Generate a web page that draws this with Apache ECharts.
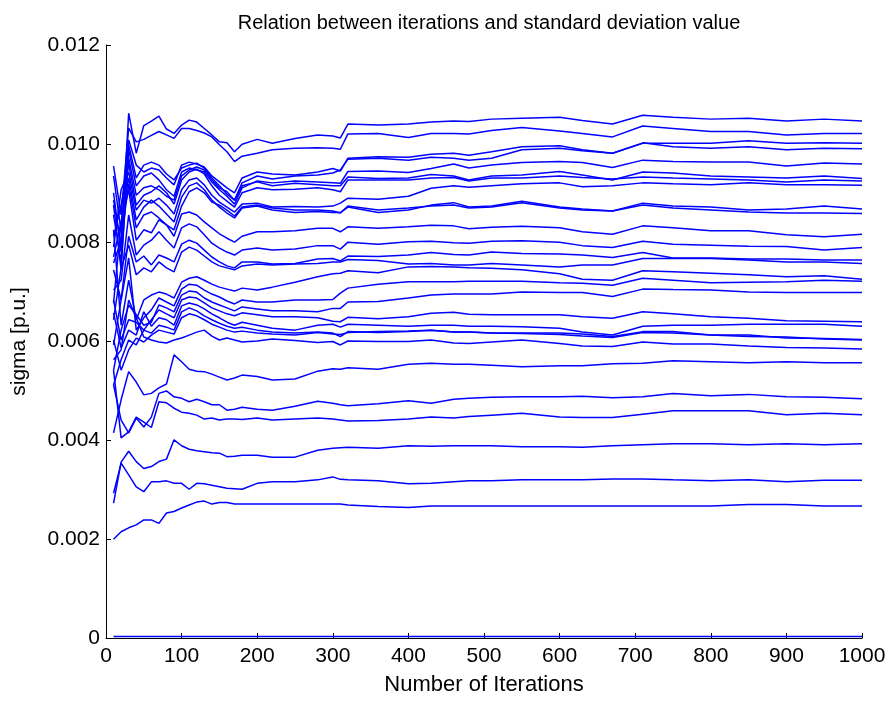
<!DOCTYPE html>
<html><head><meta charset="utf-8">
<script src="https://cdn.jsdelivr.net/npm/echarts@6/dist/echarts.min.js"></script>
<style>html,body{margin:0;padding:0;background:#fff}#c{width:890px;height:705px}</style>
</head><body><div id="c"></div>
<script>
const iterations = [10,20,30,40,50,60,70,80,90,100,110,120,130,140,150,160,170,180,200,220,250,280,300,310,320,360,400,430,460,480,510,550,600,630,670,710,750,800,850,900,950,1000];

const sigma01 = [0.00886,0.00795,0.01062,0.00981,0.01037,0.01046,0.01056,0.01030,0.01021,0.01038,0.01048,0.01044,0.01031,0.01018,0.01004,0.01002,0.00984,0.00999,0.01009,0.01001,0.01011,0.01018,0.01016,0.01012,0.01040,0.01038,0.01040,0.01044,0.01046,0.01045,0.01050,0.01052,0.01054,0.01047,0.01040,0.01058,0.01054,0.01050,0.01052,0.01046,0.01050,0.01046];
const sigma02 = [0.00955,0.00856,0.01032,0.01004,0.01009,0.01017,0.01025,0.01018,0.01011,0.01031,0.01031,0.01027,0.01022,0.01014,0.00998,0.00984,0.00964,0.00975,0.00981,0.00988,0.00991,0.00992,0.00991,0.00989,0.01020,0.01021,0.01013,0.01021,0.01021,0.01020,0.01027,0.01033,0.01026,0.01021,0.01014,0.01036,0.01031,0.01025,0.01025,0.01018,0.01021,0.01021];
const sigma03 = [0.00935,0.00822,0.01008,0.00957,0.00943,0.00951,0.00947,0.00931,0.00917,0.00957,0.00963,0.00959,0.00953,0.00935,0.00923,0.00911,0.00901,0.00931,0.00943,0.00939,0.00937,0.00943,0.00950,0.00945,0.00971,0.00974,0.00973,0.00979,0.00981,0.00977,0.00984,0.00994,0.00996,0.00988,0.00981,0.01001,0.01001,0.01001,0.01006,0.01001,0.01002,0.01001];
const sigma04 = [0.00901,0.00781,0.00998,0.00931,0.00957,0.00963,0.00957,0.00939,0.00927,0.00951,0.00957,0.00961,0.00951,0.00931,0.00915,0.00898,0.00886,0.00921,0.00935,0.00929,0.00935,0.00937,0.00941,0.00947,0.00969,0.00971,0.00967,0.00973,0.00971,0.00967,0.00971,0.00988,0.00991,0.00986,0.00981,0.01002,0.00994,0.00991,0.00994,0.00988,0.00991,0.00990];
const sigma05 = [0.00876,0.00745,0.00988,0.00915,0.00935,0.00941,0.00927,0.00907,0.00894,0.00943,0.00951,0.00947,0.00943,0.00923,0.00907,0.00894,0.00878,0.00911,0.00925,0.00921,0.00925,0.00923,0.00921,0.00920,0.00944,0.00945,0.00942,0.00950,0.00959,0.00951,0.00957,0.00962,0.00964,0.00962,0.00952,0.00967,0.00964,0.00963,0.00963,0.00955,0.00961,0.00959];
const sigma06 = [0.00856,0.00761,0.00971,0.00896,0.00911,0.00915,0.00907,0.00894,0.00886,0.00935,0.00947,0.00953,0.00947,0.00927,0.00911,0.00903,0.00886,0.00915,0.00923,0.00915,0.00920,0.00917,0.00915,0.00915,0.00933,0.00930,0.00931,0.00938,0.00935,0.00927,0.00935,0.00937,0.00944,0.00937,0.00927,0.00943,0.00941,0.00935,0.00933,0.00931,0.00935,0.00930];
const sigma07 = [0.00813,0.00876,0.00961,0.00876,0.00896,0.00903,0.00915,0.00901,0.00878,0.00927,0.00943,0.00949,0.00939,0.00915,0.00896,0.00884,0.00872,0.00901,0.00911,0.00907,0.00908,0.00911,0.00907,0.00903,0.00927,0.00927,0.00927,0.00931,0.00932,0.00925,0.00931,0.00931,0.00935,0.00932,0.00929,0.00933,0.00931,0.00929,0.00927,0.00923,0.00927,0.00925];
const sigma08 = [0.00791,0.00907,0.00943,0.00866,0.00886,0.00880,0.00890,0.00876,0.00858,0.00907,0.00927,0.00931,0.00917,0.00896,0.00882,0.00872,0.00862,0.00878,0.00880,0.00872,0.00873,0.00872,0.00874,0.00880,0.00890,0.00888,0.00894,0.00910,0.00915,0.00912,0.00915,0.00919,0.00921,0.00913,0.00915,0.00921,0.00919,0.00917,0.00921,0.00917,0.00917,0.00916];
const sigma09 = [0.00771,0.00842,0.00931,0.00846,0.00872,0.00886,0.00874,0.00858,0.00842,0.00892,0.00915,0.00921,0.00907,0.00886,0.00872,0.00860,0.00850,0.00870,0.00874,0.00866,0.00861,0.00863,0.00861,0.00861,0.00872,0.00861,0.00866,0.00876,0.00881,0.00872,0.00874,0.00884,0.00872,0.00868,0.00864,0.00880,0.00874,0.00872,0.00866,0.00868,0.00874,0.00868];
const sigma10 = [0.00759,0.00805,0.00919,0.00830,0.00856,0.00862,0.00850,0.00836,0.00826,0.00874,0.00903,0.00911,0.00901,0.00882,0.00876,0.00866,0.00854,0.00872,0.00876,0.00870,0.00866,0.00866,0.00864,0.00860,0.00874,0.00866,0.00870,0.00874,0.00876,0.00870,0.00872,0.00881,0.00870,0.00866,0.00864,0.00876,0.00870,0.00866,0.00862,0.00860,0.00860,0.00859];
const sigma11 = [0.00678,0.00842,0.00907,0.00805,0.00826,0.00820,0.00846,0.00836,0.00813,0.00858,0.00862,0.00856,0.00842,0.00830,0.00818,0.00809,0.00801,0.00813,0.00822,0.00822,0.00824,0.00829,0.00829,0.00822,0.00832,0.00829,0.00832,0.00835,0.00834,0.00828,0.00831,0.00833,0.00830,0.00822,0.00817,0.00834,0.00830,0.00824,0.00824,0.00816,0.00812,0.00817];
const sigma12 = [0.00704,0.00724,0.00856,0.00775,0.00795,0.00805,0.00822,0.00805,0.00789,0.00830,0.00838,0.00832,0.00816,0.00799,0.00789,0.00781,0.00775,0.00785,0.00789,0.00785,0.00787,0.00794,0.00794,0.00787,0.00801,0.00797,0.00802,0.00803,0.00800,0.00799,0.00803,0.00804,0.00801,0.00794,0.00790,0.00803,0.00797,0.00795,0.00793,0.00792,0.00785,0.00790];
const sigma13 = [0.00745,0.00684,0.00813,0.00761,0.00773,0.00755,0.00775,0.00769,0.00761,0.00797,0.00805,0.00799,0.00785,0.00771,0.00761,0.00753,0.00749,0.00761,0.00761,0.00757,0.00758,0.00767,0.00768,0.00763,0.00773,0.00772,0.00775,0.00780,0.00776,0.00775,0.00781,0.00778,0.00777,0.00775,0.00770,0.00780,0.00769,0.00769,0.00767,0.00767,0.00765,0.00765];
const sigma14 = [0.00644,0.00749,0.00795,0.00735,0.00749,0.00741,0.00761,0.00749,0.00741,0.00781,0.00791,0.00785,0.00773,0.00761,0.00753,0.00749,0.00745,0.00753,0.00757,0.00755,0.00757,0.00758,0.00761,0.00761,0.00766,0.00764,0.00757,0.00758,0.00755,0.00755,0.00758,0.00755,0.00751,0.00755,0.00755,0.00768,0.00768,0.00768,0.00765,0.00761,0.00761,0.00758];
const sigma15 = [0.00826,0.00633,0.00724,0.00644,0.00684,0.00694,0.00700,0.00696,0.00688,0.00720,0.00728,0.00731,0.00724,0.00716,0.00710,0.00706,0.00702,0.00708,0.00704,0.00710,0.00720,0.00731,0.00737,0.00738,0.00743,0.00739,0.00751,0.00752,0.00751,0.00749,0.00748,0.00745,0.00737,0.00726,0.00724,0.00743,0.00741,0.00738,0.00735,0.00731,0.00733,0.00726];
const sigma16 = [0.00593,0.00684,0.00769,0.00623,0.00648,0.00664,0.00688,0.00680,0.00672,0.00706,0.00716,0.00714,0.00704,0.00696,0.00690,0.00682,0.00676,0.00684,0.00680,0.00680,0.00684,0.00684,0.00685,0.00698,0.00708,0.00716,0.00721,0.00721,0.00721,0.00722,0.00722,0.00722,0.00719,0.00718,0.00714,0.00728,0.00724,0.00719,0.00720,0.00721,0.00724,0.00722];
const sigma17 = [0.00542,0.00623,0.00674,0.00654,0.00633,0.00639,0.00674,0.00668,0.00660,0.00694,0.00702,0.00700,0.00688,0.00680,0.00674,0.00668,0.00662,0.00670,0.00666,0.00662,0.00662,0.00660,0.00667,0.00667,0.00680,0.00681,0.00688,0.00694,0.00696,0.00696,0.00696,0.00700,0.00699,0.00699,0.00691,0.00706,0.00705,0.00704,0.00700,0.00699,0.00699,0.00699];
const sigma18 = [0.00684,0.00603,0.00644,0.00639,0.00623,0.00644,0.00664,0.00656,0.00648,0.00684,0.00690,0.00688,0.00678,0.00668,0.00662,0.00656,0.00652,0.00658,0.00654,0.00650,0.00650,0.00648,0.00641,0.00640,0.00649,0.00646,0.00650,0.00657,0.00659,0.00655,0.00654,0.00654,0.00654,0.00650,0.00647,0.00660,0.00656,0.00650,0.00647,0.00642,0.00641,0.00640];
const sigma19 = [0.00658,0.00587,0.00623,0.00613,0.00660,0.00631,0.00648,0.00644,0.00633,0.00672,0.00678,0.00674,0.00666,0.00656,0.00648,0.00639,0.00633,0.00639,0.00633,0.00627,0.00623,0.00633,0.00635,0.00629,0.00635,0.00633,0.00631,0.00633,0.00633,0.00631,0.00631,0.00630,0.00627,0.00619,0.00613,0.00631,0.00633,0.00633,0.00635,0.00635,0.00635,0.00631];
const sigma20 = [0.00512,0.00563,0.00603,0.00593,0.00623,0.00617,0.00633,0.00629,0.00623,0.00660,0.00668,0.00662,0.00652,0.00644,0.00637,0.00631,0.00627,0.00629,0.00623,0.00619,0.00617,0.00619,0.00617,0.00610,0.00620,0.00618,0.00620,0.00623,0.00619,0.00619,0.00617,0.00617,0.00617,0.00615,0.00610,0.00620,0.00620,0.00613,0.00613,0.00607,0.00606,0.00604];
const sigma21 = [0.00603,0.00542,0.00583,0.00607,0.00599,0.00613,0.00623,0.00619,0.00615,0.00648,0.00656,0.00652,0.00644,0.00635,0.00629,0.00623,0.00619,0.00621,0.00617,0.00615,0.00613,0.00618,0.00615,0.00614,0.00618,0.00620,0.00621,0.00623,0.00619,0.00619,0.00617,0.00616,0.00614,0.00611,0.00608,0.00618,0.00617,0.00613,0.00610,0.00609,0.00605,0.00603];
const sigma22 = [0.00563,0.00583,0.00684,0.00648,0.00609,0.00603,0.00599,0.00597,0.00603,0.00607,0.00613,0.00619,0.00623,0.00611,0.00603,0.00607,0.00603,0.00599,0.00601,0.00605,0.00602,0.00598,0.00600,0.00593,0.00601,0.00600,0.00600,0.00603,0.00597,0.00596,0.00599,0.00603,0.00596,0.00591,0.00590,0.00599,0.00595,0.00595,0.00591,0.00588,0.00587,0.00585];
const sigma23 = [0.00415,0.00482,0.00539,0.00518,0.00492,0.00495,0.00506,0.00514,0.00573,0.00559,0.00544,0.00540,0.00539,0.00534,0.00528,0.00522,0.00526,0.00532,0.00529,0.00522,0.00524,0.00540,0.00545,0.00544,0.00547,0.00544,0.00554,0.00556,0.00554,0.00554,0.00552,0.00549,0.00551,0.00551,0.00555,0.00556,0.00561,0.00559,0.00557,0.00559,0.00557,0.00557];
const sigma24 = [0.00512,0.00441,0.00415,0.00445,0.00427,0.00447,0.00495,0.00500,0.00488,0.00485,0.00478,0.00483,0.00478,0.00472,0.00472,0.00461,0.00463,0.00467,0.00463,0.00461,0.00469,0.00479,0.00475,0.00472,0.00470,0.00474,0.00480,0.00475,0.00483,0.00485,0.00487,0.00488,0.00488,0.00489,0.00486,0.00488,0.00495,0.00490,0.00493,0.00488,0.00487,0.00484];
const sigma25 = [0.00542,0.00405,0.00417,0.00447,0.00437,0.00426,0.00478,0.00476,0.00465,0.00457,0.00455,0.00451,0.00443,0.00445,0.00441,0.00443,0.00443,0.00442,0.00445,0.00441,0.00443,0.00445,0.00443,0.00441,0.00439,0.00440,0.00443,0.00447,0.00445,0.00448,0.00451,0.00455,0.00447,0.00446,0.00446,0.00453,0.00460,0.00460,0.00460,0.00452,0.00455,0.00452];
const sigma26 = [0.00273,0.00356,0.00378,0.00357,0.00343,0.00347,0.00357,0.00362,0.00401,0.00389,0.00382,0.00379,0.00377,0.00375,0.00374,0.00367,0.00368,0.00370,0.00370,0.00366,0.00366,0.00380,0.00384,0.00385,0.00386,0.00384,0.00389,0.00388,0.00389,0.00389,0.00389,0.00387,0.00387,0.00386,0.00389,0.00391,0.00393,0.00393,0.00391,0.00393,0.00391,0.00393];
const sigma27 = [0.00293,0.00354,0.00330,0.00306,0.00296,0.00316,0.00316,0.00318,0.00313,0.00313,0.00301,0.00313,0.00312,0.00309,0.00306,0.00303,0.00302,0.00301,0.00313,0.00316,0.00316,0.00320,0.00326,0.00321,0.00320,0.00318,0.00312,0.00313,0.00316,0.00318,0.00318,0.00320,0.00320,0.00320,0.00322,0.00322,0.00320,0.00318,0.00320,0.00316,0.00319,0.00319];
const sigma28 = [0.00200,0.00215,0.00223,0.00229,0.00239,0.00239,0.00232,0.00253,0.00256,0.00263,0.00269,0.00275,0.00277,0.00271,0.00274,0.00274,0.00271,0.00271,0.00271,0.00271,0.00271,0.00271,0.00271,0.00271,0.00269,0.00266,0.00264,0.00267,0.00267,0.00267,0.00267,0.00267,0.00267,0.00267,0.00267,0.00267,0.00267,0.00267,0.00270,0.00270,0.00267,0.00267];

const nearZeroIterations = [10, 1000];
const nearZeroSigma = [0.00003, 0.00003];

const allSigma = [sigma01,sigma02,sigma03,sigma04,sigma05,sigma06,sigma07,sigma08,sigma09,sigma10,sigma11,sigma12,sigma13,sigma14,sigma15,sigma16,sigma17,sigma18,sigma19,sigma20,sigma21,sigma22,sigma23,sigma24,sigma25,sigma26,sigma27,sigma28];

const FONT = '"Liberation Sans", Arial, Helvetica, sans-serif';
const BLUE = '#0000ff';

const series = allSigma.map(arr => ({
  type: 'line',
  data: iterations.map((it, i) => [it, arr[i]]),
  showSymbol: false, symbol: 'none',
  lineStyle: { color: BLUE, width: 1.5 },
  silent: true, animation: false
}));
series.push({
  type: 'line',
  data: nearZeroIterations.map((it, i) => [it, nearZeroSigma[i]]),
  showSymbol: false, symbol: 'none',
  lineStyle: { color: BLUE, width: 1.5 },
  silent: true, animation: false, z: 5
});

const chart = echarts.init(document.getElementById('c'), null, { renderer: 'canvas' });
chart.setOption({
  backgroundColor: '#fff',
  animation: false,
  title: {
    text: 'Relation between iterations and standard deviation value',
    left: 484, top: 8, textAlign: 'center',
    textStyle: { fontFamily: FONT, fontSize: 20, fontWeight: 'normal', color: '#000' }
  },
  grid: { left: 106, right: 28, top: 45, bottom: 67, containLabel: false },
  xAxis: {
    type: 'value', min: 0, max: 1000, interval: 100,
    name: 'Number of Iterations', nameLocation: 'middle', nameGap: 36,
    nameTextStyle: { fontFamily: FONT, fontSize: 22, color: '#000' },
    axisLine: { show: true, onZero: false, lineStyle: { color: '#000', width: 1 } },
    axisTick: { show: true, inside: true, length: 5, lineStyle: { color: '#000' } },
    axisLabel: { fontFamily: FONT, fontSize: 21, color: '#000', margin: 8,
      formatter: v => String(v) },
    splitLine: { show: false }
  },
  yAxis: {
    type: 'value', min: 0, max: 0.012, interval: 0.002,
    name: 'sigma [p.u.]', nameLocation: 'middle', nameGap: 76, nameRotate: 90,
    nameTextStyle: { fontFamily: FONT, fontSize: 21, color: '#000' },
    axisLine: { show: true, lineStyle: { color: '#000', width: 1 } },
    axisTick: { show: true, inside: true, length: 5, lineStyle: { color: '#000' } },
    axisLabel: { fontFamily: FONT, fontSize: 21, color: '#000', margin: 6,
      formatter: v => v === 0 ? '0' : v.toFixed(3) },
    splitLine: { show: false }
  },
  series: series
});
</script></body></html>
